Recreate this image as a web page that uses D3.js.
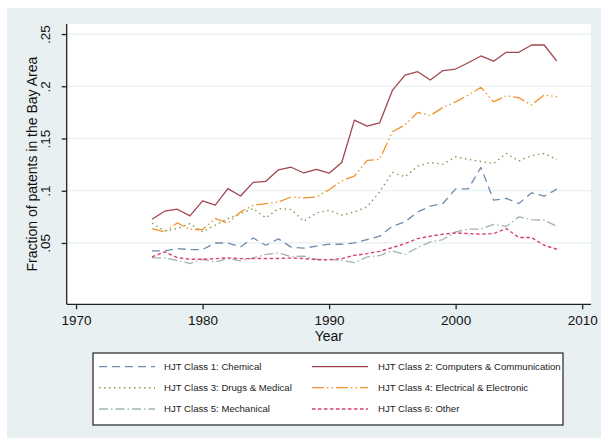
<!DOCTYPE html>
<html><head><meta charset="utf-8">
<script src="https://d3js.org/d3.v7.min.js"></script>
<style>body{margin:0;background:#fff;}svg{display:block;font-family:"Liberation Sans",Arial,sans-serif;}</style>
</head><body><svg id="c" width="601" height="438"></svg>
<script>
const years = d3.range(1976, 2009);
const chemical = [0.0424,0.0424,0.0446,0.0437,0.0437,0.050,0.050,0.0462,0.0548,0.0478,0.0539,0.0460,0.045,0.047,0.0488,0.0488,0.050,0.0533,0.0565,0.066,0.0702,0.0798,0.0852,0.0878,0.1018,0.1018,0.1223,0.091,0.0926,0.0878,0.098,0.0948,0.1015];
const computers = [0.0727,0.0804,0.0823,0.0759,0.0903,0.0862,0.102,0.095,0.108,0.109,0.120,0.1225,0.117,0.1204,0.1168,0.127,0.1676,0.1619,0.165,0.196,0.2107,0.2139,0.206,0.215,0.2165,0.2225,0.229,0.224,0.2325,0.2325,0.2395,0.2395,0.224];
const drugs = [0.069,0.0615,0.0638,0.0686,0.0606,0.067,0.0734,0.078,0.083,0.074,0.083,0.082,0.0708,0.0788,0.0814,0.0766,0.0798,0.0845,0.099,0.1175,0.1133,0.1235,0.127,0.1254,0.1325,0.130,0.128,0.126,0.1357,0.1286,0.1334,0.1357,0.130];
const electrical = [0.0638,0.0606,0.0692,0.063,0.0628,0.0734,0.069,0.0797,0.086,0.0877,0.0893,0.094,0.0932,0.094,0.101,0.1095,0.114,0.129,0.130,0.1565,0.163,0.175,0.172,0.1798,0.185,0.1916,0.199,0.185,0.191,0.189,0.182,0.1916,0.190];
const mechanical = [0.0357,0.0357,0.0334,0.0303,0.0344,0.0318,0.035,0.0328,0.0357,0.039,0.0405,0.0370,0.0373,0.0344,0.034,0.0334,0.0312,0.0366,0.038,0.0424,0.039,0.0456,0.051,0.0533,0.0606,0.0632,0.0632,0.0677,0.066,0.075,0.0724,0.0718,0.066];
const other = [0.0366,0.0414,0.036,0.0344,0.0344,0.035,0.0357,0.035,0.035,0.0352,0.0352,0.0356,0.0351,0.034,0.034,0.035,0.0382,0.0398,0.042,0.0456,0.0494,0.0542,0.0565,0.0584,0.0596,0.059,0.0584,0.059,0.0638,0.0552,0.0552,0.0478,0.044];
const seriesNames = ["HJT Class 1: Chemical","HJT Class 2: Computers & Communication","HJT Class 3: Drugs & Medical","HJT Class 4: Electrical & Electronic","HJT Class 5: Mechanical","HJT Class 6: Other"];
const seriesValues = [chemical, computers, drugs, electrical, mechanical, other];
const xTicks = [1970,1980,1990,2000,2010];
const yTicks = [0.05,0.1,0.15,0.2,0.25];
const yTickLabels = [".05",".1",".15",".2",".25"];

const styles = [
  {color:"#6f8cae", dash:"8,5", w:1.3},
  {color:"#a2474f", dash:null, w:1.3},
  {color:"#7f9e5a", dash:"1.5,3.5", w:1.4},
  {color:"#f0932c", dash:"12,3,1.5,3,1.5,3", w:1.3},
  {color:"#9fb4ad", dash:"9,3,1.5,3", w:1.3},
  {color:"#d8436f", dash:"3.5,2.5", w:1.4}
];

const svg = d3.select("#c");
svg.append("rect").attr("x",7).attr("y",8).attr("width",594).attr("height",430).attr("fill","#e8f0f2");
const L=66.7, R=591, T=24, B=304.3;
svg.append("rect").attr("x",L).attr("y",T).attr("width",R-L).attr("height",B-T).attr("fill","#fff");

const x = d3.scaleLinear().domain([1969.26,2010.7]).range([L,R]);
const y = d3.scaleLinear().domain([-0.0087,0.2596]).range([B,T]);

// gridlines
svg.append("g").selectAll("line").data(yTicks).join("line")
  .attr("x1",L).attr("x2",R).attr("y1",d=>y(d)).attr("y2",d=>y(d))
  .attr("stroke","#e6eff1").attr("stroke-width",1.2);

// axes
const yAxis = d3.axisLeft(y).tickValues(yTicks).tickFormat((d,i)=>yTickLabels[i]).tickSize(5).tickSizeOuter(0);
const gy = svg.append("g").attr("transform",`translate(${L},0)`).call(yAxis);
gy.select(".domain").attr("d",`M0,${B}V${T}`).attr("stroke","#222").attr("stroke-width",1.3);
gy.selectAll(".tick line").attr("stroke","#222").attr("stroke-width",1.3);
gy.selectAll(".tick text").attr("font-size",13.5).attr("fill","#111")
  .attr("transform",function(d){return `translate(${-(this.getAttribute("x")||0)},0)`;})
  .attr("x",0).attr("dy",null).attr("text-anchor","middle")
  .attr("transform",d=>`translate(-17,0) rotate(-90)`);

const xAxis = d3.axisBottom(x).tickValues(xTicks).tickFormat(d3.format("d")).tickSize(5).tickSizeOuter(0);
const gx = svg.append("g").attr("transform",`translate(0,${B})`).call(xAxis);
gx.select(".domain").attr("d",`M${L},0H${R}`).attr("stroke","#222").attr("stroke-width",1.3);
gx.selectAll(".tick line").attr("stroke","#222").attr("stroke-width",1.3);
gx.selectAll(".tick text").attr("font-size",13.5).attr("fill","#111").attr("y",11);

svg.append("text").attr("x",(L+R)/2).attr("y",341).attr("text-anchor","middle").attr("font-size",14).attr("fill","#111").text("Year");
svg.append("text").attr("transform",`translate(37,${(T+B)/2}) rotate(-90)`).attr("text-anchor","middle").attr("font-size",14).attr("fill","#111").text("Fraction of patents in the Bay Area");

// lines
const line = d3.line().x((d,i)=>x(years[i])).y(d=>y(d));
svg.append("g").selectAll("path").data(seriesValues).join("path")
  .attr("d",d=>line(d)).attr("fill","none")
  .attr("stroke",(d,i)=>styles[i].color).attr("stroke-width",(d,i)=>styles[i].w)
  .attr("stroke-dasharray",(d,i)=>styles[i].dash).attr("stroke-linejoin","round");

// legend
svg.append("rect").attr("x",93).attr("y",353).attr("width",470).attr("height",72).attr("fill","#fff").attr("stroke","#222").attr("stroke-width",1.2);
const rowsY=[366.7,387.7,409], colLx=[99,312], colTx=[164,378];
const lg = svg.append("g").selectAll("g").data(seriesNames).join("g")
  .attr("transform",(d,i)=>`translate(0,${rowsY[Math.floor(i/2)]})`);
lg.append("line").attr("x1",(d,i)=>colLx[i%2]).attr("x2",(d,i)=>colLx[i%2]+56).attr("y1",0).attr("y2",0)
  .attr("stroke",(d,i)=>styles[i].color).attr("stroke-width",(d,i)=>styles[i].w)
  .attr("stroke-dasharray",(d,i)=>styles[i].dash);
lg.append("text").attr("x",(d,i)=>colTx[i%2]).attr("y",0).attr("dy","0.35em").attr("font-size",9.6).attr("fill","#222").text(d=>d);
</script></body></html>
